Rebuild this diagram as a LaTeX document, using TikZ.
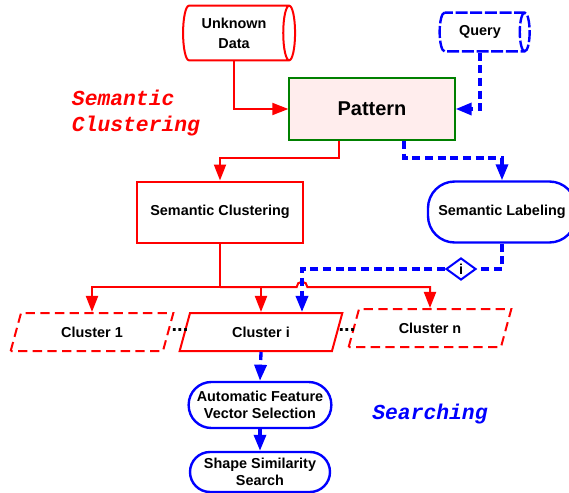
\documentclass[tikz,border=0pt]{standalone}
\usepackage{fontspec}
\setmainfont{Liberation Sans}
\newfontfamily\labelfont{Liberation Mono}
\usetikzlibrary{arrows.meta,shapes.geometric}

\begin{document}
\begin{tikzpicture}[x=0.75pt,y=-0.75pt,>={Triangle[length=12pt,width=9pt]},
  font=\fontsize{10.8}{13}\selectfont\bfseries,
  redline/.style={draw=red,line width=1.5pt},
  blueline/.style={draw=blue,line width=2.5pt,dash pattern=on 6pt off 3.5pt},
  redbox/.style={rectangle,draw=red,line width=1.5pt,minimum width=124pt,minimum height=45.75pt},
  bluepill/.style={rectangle,rounded corners=#1,draw=blue,line width=1.8pt,align=center,inner sep=2pt},
  cluster/.style={trapezium,trapezium left angle=62,trapezium right angle=118,
    trapezium stretches body,draw=red,line width=1.5pt,
    minimum width=122pt,minimum height=28.5pt},
  tag/.style={font=\labelfont\fontsize{16}{19}\selectfont\bfseries\itshape,align=left},
  dotsfont/.style={font=\fontsize{15}{17}\selectfont\bfseries}
]
  \useasboundingbox (0,0) rectangle (569,493);

  % sources
  \node[cylinder,shape aspect=0.3,draw=red,line width=1.5pt,
    minimum width=41pt,minimum height=84pt,align=center] (udata) at (234,33)
    {Unknown\\[2pt]Data};
  \node[cylinder,shape aspect=0.45,draw=blue,line width=1.8pt,
    dash pattern=on 9pt off 2pt,minimum width=29pt,minimum height=67.5pt] (query) at (480,32)
    {Query};
  \node[rectangle,draw=green!50!black,fill=red!7,line width=1.5pt,
    minimum width=124pt,minimum height=46.5pt,font=\fontsize{15}{18}\selectfont\bfseries]
    (pattern) at (372,109) {Pattern};

  % clustering side
  \node[redbox] (semclust) at (220,212) {Semantic Clustering};
  \node[cluster,dash pattern=on 7pt off 4pt] (c1) at (92,332) {Cluster 1};
  \node[cluster] (ci) at (261,332) {Cluster i};
  \node[cluster,dash pattern=on 7pt off 4pt] (cn) at (430,328) {Cluster n};
  \node[dotsfont] (dots1) at (180,330) {...};
  \node[dotsfont] (dots2) at (347,330) {...};

  % searching side
  \node[bluepill=20pt,minimum width=111pt,minimum height=45.75pt] (semlabel) at (502,212)
    {Semantic Labeling};
  \node[diamond,draw=blue,line width=1.5pt,fill=white,inner sep=0pt,
    minimum width=22.5pt,minimum height=16.5pt] (diam) at (461,269) {i};
  \node[bluepill=17pt,minimum width=107pt,minimum height=34.5pt] (afvs) at (260,405)
    {Automatic Feature\\Vector Selection};
  \node[bluepill=15pt,minimum width=105pt,minimum height=30pt] (sss) at (260,472)
    {Shape Similarity\\Search};

  \node[tag,text=red] (tagclust) at (136,113) {Semantic\\Clustering};
  \node[tag,text=blue] (tagsearch) at (430,414) {Searching};

  % connectors
  \coordinate (split1) at (339,158);
  \coordinate (split2) at (404,158);
  \coordinate (bus) at (220,287);
  \coordinate (drop) at (302,287);

  \draw[redline,->] (udata.south) |- (pattern.west);
  \draw[blueline,->] (query.south) |- (pattern.east);
  \draw[redline,->] (pattern.south -| split1) -- (split1) -| (semclust.north);
  \draw[blueline,->] (pattern.south -| split2) -- (split2) -| (semlabel.north);

  \draw[redline] (semclust.south) -- (bus);
  \draw[redline,->] (bus) -| (c1.north);
  \draw[redline,->] (bus) -| (ci.north);
  \draw[redline,->] (bus) -- ([xshift=-4pt]drop) arc[start angle=180,end angle=0,radius=4pt]
    -| (cn.north);

  \draw[blueline] (semlabel.south) |- (diam.east);
  \draw[blueline,->] (diam.west) -| (drop |- ci.north);
  \draw[blueline,->] (ci.south) -- (afvs.north);
  \draw[blueline,->] (afvs.south) -- (sss.north);
\end{tikzpicture}
\end{document}
